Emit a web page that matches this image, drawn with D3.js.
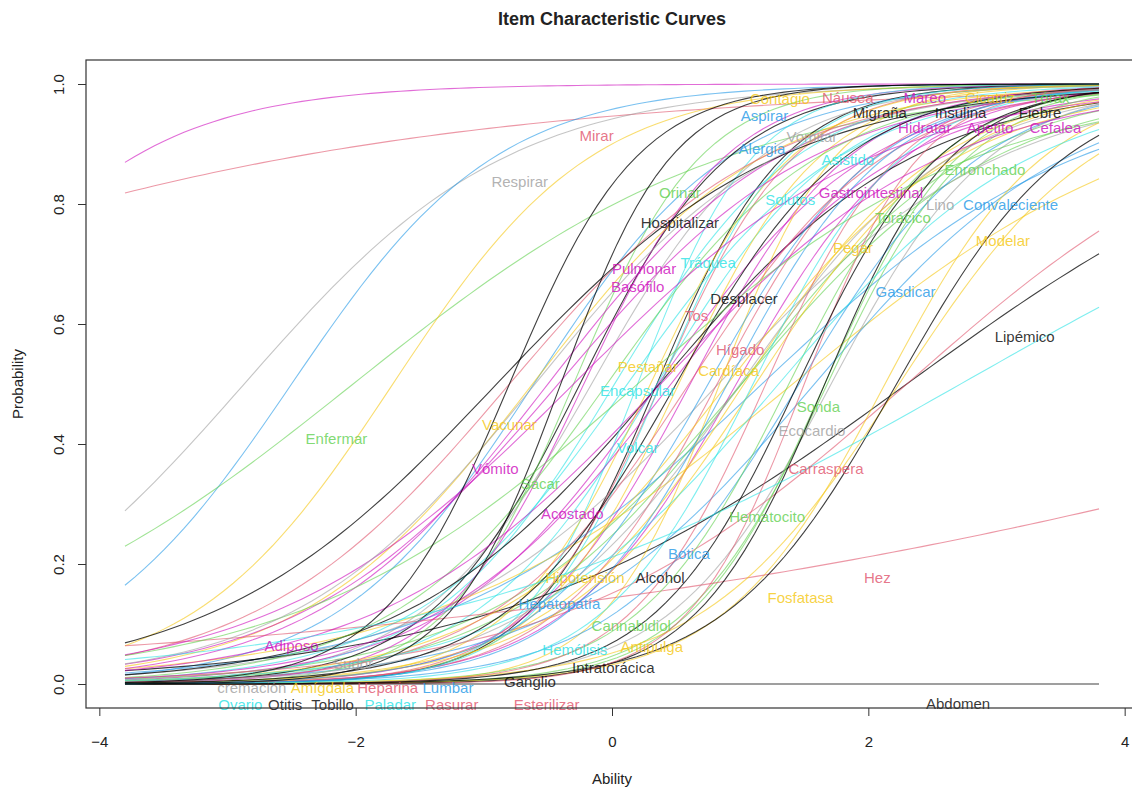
<!DOCTYPE html>
<html>
<head>
<meta charset="utf-8">
<script src="https://cdn.jsdelivr.net/npm/d3@7"></script>
<style>
  body { margin: 0; background: #fff; }
  svg text { font-family: "Liberation Sans", Arial, Helvetica, sans-serif; }
</style>
</head>
<body>
<svg id="chart" width="1132" height="789"></svg>
<script>
// item parameters (2PL: discrimination a, difficulty b)
const itemNames = [
  'Mareo', 'Mirar', 'Respirar', 'Aspirar', 'Enfermar', 'Contagio', 'Migraña', 'Vomitar',
  'Alergia', 'Asistido', 'Apetito', 'Hidratar', 'Cicatriz', 'Enronchado', 'Gastrointestinal', 'Lino',
  'Convaleciente', 'Torácico', 'Modelar', 'Pegar', 'Gasdicar', 'Lipémico', 'Hospitalizar', 'Orinar',
  'Solutos', 'Pulmonar', 'Tráquea', 'Basófilo', 'Desplacer', 'Tos', 'Hígado', 'Cardíaca',
  'Encapsular', 'Pestañar', 'Vacunar', 'Volcar', 'Vómito', 'Sacar', 'Acostado', 'Sonda',
  'Ecocardio', 'Carraspera', 'Hematocito', 'Botica', 'Fosfatasa', 'Hez', 'Hipotensión', 'Hepatopatía',
  'Cannabidiol', 'Antipulga', 'Intratorácica', 'Ganglio', 'Esterilizar', 'Rasurar', 'Abdomen', 'cremación',
  'Amígdala', 'Heparina', 'Lumbar', 'Ovario', 'Otitis', 'Paladar', 'Adiposo', 'Fiebre',
  'Náusea', 'Cefalea', 'Tórax', 'Sudor', 'Tobillo', 'Insulina', 'Alcohol', 'Hemólisis'
]
// index into the R palette
const itemColor = [
  5, 1, 7, 3, 2, 6, 0, 7,
  3, 4, 5, 5, 6, 2, 5, 7,
  3, 2, 6, 6, 3, 0, 0, 2,
  4, 5, 4, 5, 0, 1, 1, 6,
  4, 6, 6, 4, 5, 2, 5, 2,
  7, 1, 2, 3, 6, 1, 6, 3,
  2, 6, 0, 0, 1, 1, 0, 7,
  6, 1, 3, 4, 0, 4, 5, 0,
  1, 5, 2, 7, 0, 0, 0, 4
]
const discrimination = [
  1.17, 0.36, 0.97, 1.25, 0.68, 1.285, 2.0, 1.5,
  1.3, 1.4, 1.2, 1.6, 1.8, 1.0, 1.5, 0.9,
  0.8, 1.1, 0.7, 1.3, 1.0, 0.62, 1.7, 2.0,
  1.2, 1.1, 1.4, 1.8, 1.0, 1.9, 1.6, 2.2,
  2.2, 1.8, 1.1, 2.0, 1.0, 1.2, 1.1, 1.8,
  1.6, 0.75, 1.9, 1.4, 1.6, 0.237, 1.3, 1.5,
  1.7, 1.3, 1.5, 2.0, 2.2, 1.9, 1.0, 1.2,
  1.1, 1.3, 1.6, 1.0, 1.5, 1.7, 0.9, 0.9,
  1.0, 0.85, 0.75, 1.05, 2.0, 1.8, 2.3, 0.484
]
const difficulty = [
  -5.42, -7.98, -2.87, -2.5, -2.02, -1.71, 0.35, -0.16,
  -0.61, 0.35, 0.36, 0.61, 0.52, 1.01, 0.97, 0.83,
  1.17, 1.01, 1.41, 1.03, 1.58, 2.3, -0.25, -0.3,
  0.12, -0.5, 0.02, -0.22, 0.37, 0.38, 0.82, 0.84,
  0.2, 0.3, -0.62, 0.38, -0.42, -0.04, 0.46, 1.68,
  1.71, 2.3, 1.66, 1.46, 2.13, 7.54, 1.12, 0.75,
  1.38, 2.24, 2.22, 1.66, 1.5, 1.2, 30, 1.0,
  0.9, 0.6, 0.9, 1.3, 0.5, 1.1, 0.38, -0.9,
  -0.8, -0.3, 0.2, -0.6, -0.8, 1.45, -0.4, 2.72
]
// where each item name sits (ability, probability)
const labelTheta = [
  2.44, -0.12, -0.72, 1.19, -2.15, 1.31, 2.09, 1.56,
  1.17, 1.84, 2.95, 2.44, 2.95, 2.91, 2.02, 2.56,
  3.11, 2.27, 3.05, 1.88, 2.29, 3.22, 0.53, 0.53,
  1.39, 0.25, 0.75, 0.2, 1.03, 0.66, 1.0, 0.91,
  0.2, 0.28, -0.8, 0.2, -0.91, -0.56, -0.31, 1.61,
  1.56, 1.67, 1.21, 0.6, 1.47, 2.07, -0.21, -0.41,
  0.15, 0.31, 0.01, -0.64, -0.51, -1.25, 2.7, -2.81,
  -2.26, -1.75, -1.28, -2.9, -2.55, -1.73, -2.5, 3.34,
  1.84, 3.46, 3.42, -2.02, -2.18, 2.72, 0.375, -0.29
]
const labelProb = [
  0.977, 0.915, 0.837, 0.947, 0.41, 0.976, 0.952, 0.912,
  0.893, 0.875, 0.927, 0.927, 0.977, 0.857, 0.82, 0.8,
  0.8, 0.777, 0.74, 0.728, 0.655, 0.58, 0.77, 0.82,
  0.807, 0.693, 0.703, 0.663, 0.642, 0.615, 0.557, 0.522,
  0.49, 0.53, 0.433, 0.395, 0.36, 0.335, 0.285, 0.462,
  0.423, 0.36, 0.28, 0.217, 0.145, 0.177, 0.177, 0.135,
  0.097, 0.062, 0.027, 0.005, -0.034, -0.034, -0.032, -0.006,
  -0.006, -0.006, -0.006, -0.034, -0.034, -0.034, 0.065, 0.952,
  0.977, 0.927, 0.977, 0.035, -0.034, 0.952, 0.177, 0.057
]
const xTicks = [-4, -2, 0, 2, 4]
const yTicks = [0, 0.2, 0.4, 0.6, 0.8, 1]
const abilityRange = [-3.8, 3.8]

const palette = ['#000000', '#DF536B', '#61D04F', '#2297E6', '#28E2E5', '#CD0BBC', '#F5C710', '#9E9E9E']
const BOX = { left: 86, top: 60, right: 1138, bottom: 708 }

const svg = d3.select('#chart')

// R pads the data range by 4% on each side
const x = d3.scaleLinear().domain([-4.104, 4.104]).range([BOX.left, BOX.right])
const y = d3.scaleLinear().domain([-0.04, 1.04]).range([BOX.bottom, BOX.top])

const grid = d3.range(0, 100).map(i => abilityRange[0] + i * (abilityRange[1] - abilityRange[0]) / 99)
const prob = (a, b, t) => 1 / (1 + Math.exp(-a * (t - b)))

const line = d3.line()
  .x(d => x(d[0]))
  .y(d => y(d[1]))

const curves = svg.append('g')
itemNames.forEach((name, i) => {
  curves.append('path')
    .datum(grid.map(t => [t, prob(discrimination[i], difficulty[i], t)]))
    .attr('d', line)
    .attr('fill', 'none')
    .attr('stroke', palette[itemColor[i]])
    .attr('stroke-opacity', itemColor[i] === 0 ? 0.75 : 0.6)
    .attr('stroke-width', 1.1)
})

// item labels
svg.append('g')
  .selectAll('text')
  .data(itemNames)
  .enter()
  .append('text')
  .attr('x', (d, i) => x(labelTheta[i]))
  .attr('y', (d, i) => y(labelProb[i]))
  .attr('text-anchor', 'middle')
  .attr('dominant-baseline', 'central')
  .attr('font-size', 15)
  .attr('fill', (d, i) => palette[itemColor[i]])
  .attr('fill-opacity', 0.8)
  .text(d => d)

// =================== axes =================
const xAxis = d3.axisBottom(x).tickValues(xTicks).tickSize(8).tickSizeOuter(0)
const gx = svg.append('g').attr('transform', `translate(0,${BOX.bottom})`).call(xAxis)
gx.select('.domain').remove()
gx.selectAll('text').attr('font-size', 15).attr('fill', '#222').attr('dy', '0.35em').attr('y', 34)

const yAxis = d3.axisLeft(y).tickValues(yTicks).tickSize(8).tickFormat(d3.format('.1f'))
const gy = svg.append('g').attr('transform', `translate(${BOX.left},0)`).call(yAxis)
gy.select('.domain').remove()
gy.selectAll('text')
  .attr('x', null).attr('dy', null)
  .attr('transform', 'translate(-28,0) rotate(-90)')
  .attr('text-anchor', 'middle')
  .attr('dominant-baseline', 'central')
  .attr('font-size', 15)
  .attr('fill', '#222')
svg.selectAll('.tick line').attr('stroke', '#333')

svg.append('rect')
  .attr('x', BOX.left).attr('y', BOX.top)
  .attr('width', BOX.right - BOX.left).attr('height', BOX.bottom - BOX.top)
  .attr('fill', 'none').attr('stroke', '#333').attr('stroke-width', 1.2)

svg.append('text')
  .attr('x', (BOX.left + BOX.right) / 2).attr('y', 19)
  .attr('text-anchor', 'middle').attr('dominant-baseline', 'central')
  .attr('font-size', 18).attr('font-weight', 'bold').attr('fill', '#222')
  .text('Item Characteristic Curves')

svg.append('text')
  .attr('x', (BOX.left + BOX.right) / 2).attr('y', 778)
  .attr('text-anchor', 'middle').attr('dominant-baseline', 'central')
  .attr('font-size', 15).attr('fill', '#222')
  .text('Ability')

svg.append('text')
  .attr('transform', `translate(17,${(BOX.top + BOX.bottom) / 2}) rotate(-90)`)
  .attr('text-anchor', 'middle').attr('dominant-baseline', 'central')
  .attr('font-size', 15).attr('fill', '#222')
  .text('Probability')
</script>
</body>
</html>
